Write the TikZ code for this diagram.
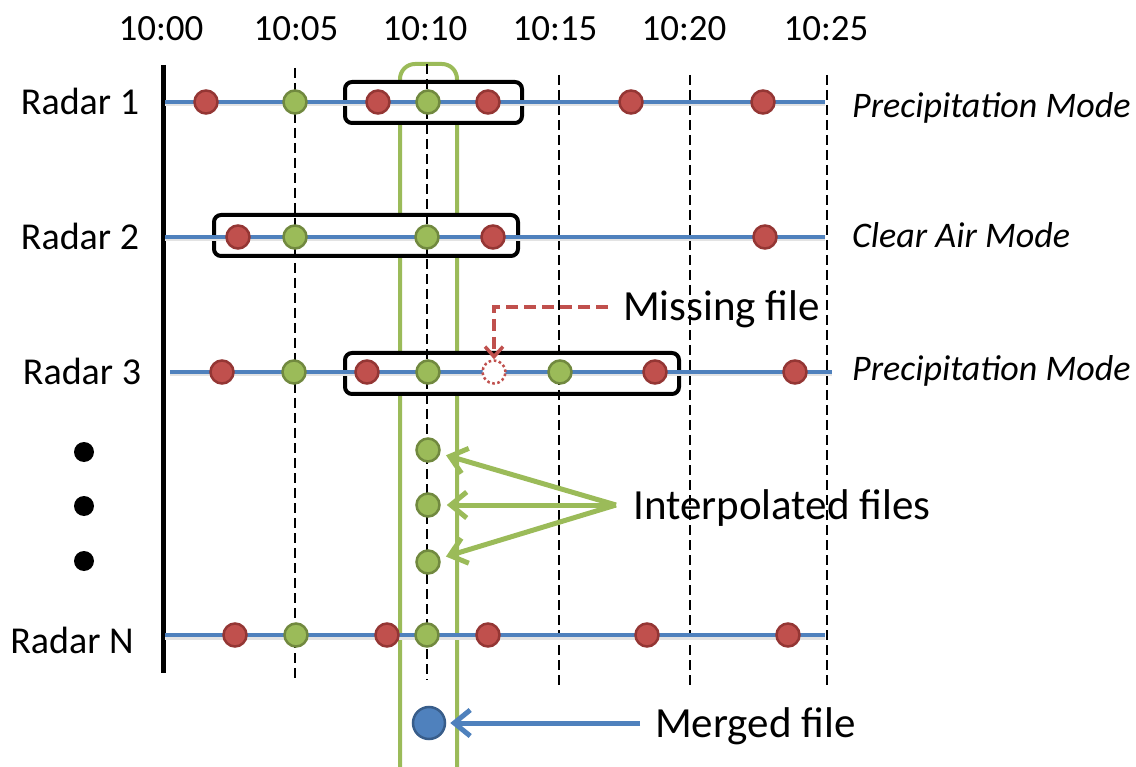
\documentclass[tikz,border=0pt]{standalone}
\usepackage{fontspec}
\setmainfont{Carlito}
\usetikzlibrary{arrows.meta}

\definecolor{redfill}{HTML}{C0504D}
\definecolor{redline}{HTML}{943634}
\definecolor{grnfill}{HTML}{9BBB59}
\definecolor{grnline}{HTML}{71893F}
\definecolor{blufill}{HTML}{4F81BD}
\definecolor{bluline}{HTML}{385D8A}
\definecolor{shade}{HTML}{E3E3E3}

\tikzset{
  dotbase/.style={circle, inner sep=0pt, minimum size=23pt, line width=2.5pt},
  reddot/.style={dotbase, fill=redfill, draw=redline},
  grndot/.style={dotbase, fill=grnfill, draw=grnline},
  missdot/.style={dotbase, fill=white, draw=redfill, dash pattern=on 2.6pt off 2.6pt},
  mergedot/.style={dotbase, minimum size=32pt, fill=blufill, draw=bluline},
  ellipsisdot/.style={circle, inner sep=0pt, minimum size=20pt, fill=black},
  track/.style={draw=blufill, line width=4pt},
  trackshade/.style={draw=shade, line width=3pt},
  tick/.style={draw=black, line width=1.2pt, dash pattern=on 10pt off 5pt},
  winbox/.style={draw=black, fill=white, line width=4pt, rounded corners=7pt},
  slot/.style={draw=grnfill, line width=4pt, rounded corners=15pt},
  axisbar/.style={draw=black, line width=5pt},
  timelbl/.style={font=\fontsize{37}{42}\selectfont, anchor=base, inner sep=0pt},
  radarlbl/.style={font=\fontsize{38}{44}\selectfont, anchor=base, inner sep=0pt},
  modelbl/.style={font=\fontsize{36}{42}\selectfont\itshape, anchor=base west, inner sep=0pt},
  calllbl/.style={font=\fontsize{43}{50}\selectfont, anchor=base west, inner sep=0pt},
  misscall/.style={draw=redfill, line width=3.5pt, dash pattern=on 12pt off 6pt,
    -{Straight Barb[length=10pt,width=18pt]}},
  grnarrow/.style={draw=grnfill, line width=5pt, shorten >=6pt,
    -{Straight Barb[length=16pt,width=26pt]}},
  bluarrow/.style={draw=blufill, line width=5pt, shorten >=4pt,
    -{Straight Barb[length=16pt,width=26pt]}},
}

\begin{document}
\begin{tikzpicture}[x=1pt,y=-1pt]
\useasboundingbox (0,0) rectangle (1136,767);

% time axis labels
\node[timelbl] (t00) at (161,41) {10:00};
\node[timelbl] (t05) at (296,41) {10:05};
\node[timelbl] (t10) at (425,41) {10:10};
\node[timelbl] (t15) at (555,41) {10:15};
\node[timelbl] (t20) at (684,41) {10:20};
\node[timelbl] (t25) at (826,41) {10:25};

% selection slot around 10:10 (open at the bottom)
\draw[slot] (400,767) -- (400,64) -- (457,64) -- (457,767);

% merge windows
\draw[winbox] (345,82) rectangle (522,123);
\draw[winbox] (214,215) rectangle (518,256);
\draw[winbox] (345,353) rectangle (679,394);

% dashed time marks
\draw[tick] (295,68) -- (295,680);
\draw[tick] (427,64) -- (427,680);
\draw[tick] (559,75) -- (559,687);
\draw[tick] (690,75) -- (690,687);
\draw[tick] (827,75) -- (827,687);

% left axis
\coordinate (axtop) at (163,65);
\coordinate (axbot) at (163,673);
\draw[axisbar] (axtop) -- (axbot);

% radar tracks
\coordinate (r1s) at (165,102); \coordinate (r1e) at (825,102);
\coordinate (r2s) at (165,237); \coordinate (r2e) at (825,237);
\coordinate (r3s) at (170,372); \coordinate (r3e) at (832,372);
\coordinate (rNs) at (165,635); \coordinate (rNe) at (825,635);
\foreach \s/\e in {r1s/r1e, r2s/r2e, r3s/r3e, rNs/rNe}{
  \draw[trackshade] ([yshift=-3pt]\s) -- ([yshift=-3pt]\e);
  \draw[track] (\s) -- (\e);
}

% radar labels
\node[radarlbl] (lab1) at (80,115) {Radar 1};
\node[radarlbl] (lab2) at (80,250) {Radar 2};
\node[radarlbl] (lab3) at (82,385) {Radar 3};
\node[radarlbl] (labN) at (72,653) {Radar N};

% mode labels
\node[modelbl] (mode1) at (852,118) {Precipitation Mode};
\node[modelbl] (mode2) at (852,248) {Clear Air Mode};
\node[modelbl] (mode3) at (852,381) {Precipitation Mode};

% Radar 1 files
\node[reddot] (a1) at (206,102) {};
\node[grndot] (a2) at (295,102) {};
\node[reddot] (a3) at (378,102) {};
\node[grndot] (a4) at (428,102) {};
\node[reddot] (a5) at (488,102) {};
\node[reddot] (a6) at (631,102) {};
\node[reddot] (a7) at (763,102) {};

% Radar 2 files
\node[reddot] (b1) at (238,237) {};
\node[grndot] (b2) at (295,237) {};
\node[grndot] (b3) at (427,237) {};
\node[reddot] (b4) at (493,237) {};
\node[reddot] (b5) at (765,237) {};

% Radar 3 files
\node[reddot] (c1) at (222,372) {};
\node[grndot] (c2) at (294,372) {};
\node[reddot] (c3) at (367,372) {};
\node[grndot] (c4) at (428,372) {};
\node[missdot] (miss) at (494,372) {};
\node[grndot] (c6) at (560,372) {};
\node[reddot] (c7) at (655,372) {};
\node[reddot] (c8) at (795,372) {};

% Radar N files
\node[reddot] (n1) at (235,635) {};
\node[grndot] (n2) at (296,635) {};
\node[reddot] (n3) at (387,635) {};
\node[grndot] (n4) at (427,635) {};
\node[reddot] (n5) at (488,635) {};
\node[reddot] (n6) at (647,635) {};
\node[reddot] (n7) at (788,635) {};

% interpolated files for the intermediate radars
\node[grndot] (i1) at (428,450) {};
\node[grndot] (i2) at (428,505) {};
\node[grndot] (i3) at (428,562) {};

% vertical ellipsis
\node[ellipsisdot] (e1) at (84,452) {};
\node[ellipsisdot] (e2) at (84,506) {};
\node[ellipsisdot] (e3) at (84,561) {};

% merged product
\node[mergedot] (merged) at (429,723) {};

% callouts
\node[calllbl] (misslbl) at (623,321) {Missing file};
\coordinate (msrc) at (608,307);
\draw[misscall] (msrc) -| (miss.north);

\node[calllbl] (interplbl) at (633,519) {Interpolated files};
\coordinate (isrc) at (616,505);
\draw[grnarrow] (isrc) -- (i1);
\draw[grnarrow] (isrc) -- (i2);
\draw[grnarrow] (isrc) -- (i3);

\node[calllbl] (mergelbl) at (655,737) {Merged file};
\coordinate (bsrc) at (640,723);
\draw[bluarrow] (bsrc) -- (merged);
\end{tikzpicture}
\end{document}
